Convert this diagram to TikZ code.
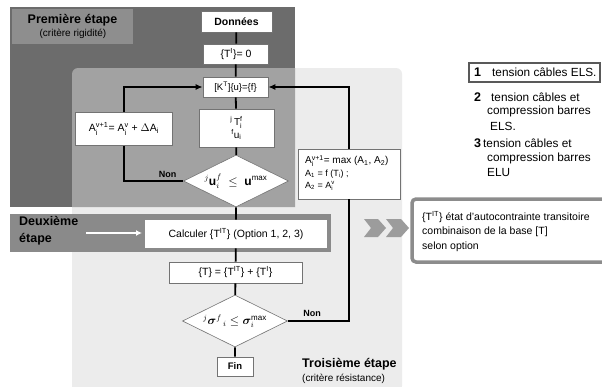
\documentclass[tikz,border=0pt]{standalone}
\usepackage{amsmath,bm}
\usepackage{fontspec}
\setmainfont{Liberation Sans}
\usetikzlibrary{shapes.geometric,arrows.meta}
\newcommand\fs[2]{\fontsize{#1}{#2}\selectfont}
\definecolor{darkp}{HTML}{6C6C6C}
\definecolor{medp}{HTML}{A2A2A2}
\definecolor{lightp}{HTML}{ECECEC}
\definecolor{labp}{HTML}{8E8E8E}
\definecolor{bandc}{HTML}{8A8A8A}
\definecolor{chev}{HTML}{9C9C9C}
\definecolor{rborder}{HTML}{8C8C8C}
\begin{document}
\begin{tikzpicture}[x=1pt,y=1pt,
  wbox/.style={draw=black!55,line width=0.6pt,fill=white,inner sep=0pt,font=\fs{10.5}{12}},
  dia/.style={diamond,draw=black!55,line width=0.6pt,fill=white,inner sep=0pt,aspect=2,minimum width=105pt,minimum height=52pt},
  conn/.style={line width=1.8pt,black},
  arr/.style={conn,-{Latex[length=7pt,width=6pt]}},
  title/.style={font=\bfseries\fs{12.5}{14},inner sep=0pt},
  subt/.style={font=\fs{10}{12},inner sep=0pt},
  nonlab/.style={font=\bfseries\fs{9}{10},inner sep=0pt},
  leg/.style={font=\fs{11.8}{13},inner sep=0pt,anchor=west},
  legn/.style={font=\bfseries\fs{12.5}{13},inner sep=0pt,anchor=west}]
\useasboundingbox (0,0) rectangle (602,-386);
\fill[white] (0,0) rectangle (602,-386);
% panels
\fill[lightp,rounded corners=6pt] (72,-68) rectangle (402,-392);
\fill[darkp] (10,-7) rectangle (295,-207);
\fill[medp] (72,-207) [rounded corners=6pt] -- (72,-68) [sharp corners] -- (295,-68) -- (295,-207) -- cycle;
\fill[labp] (12,-9) rectangle (133,-44);
\node[title] (t1) at (72.5,-20) {Première étape};
\node[subt] (t1s) at (73,-34) {(critère rigidité)};
\fill[bandc] (10,-214) rectangle (331,-252);
\node[title,anchor=west,align=left,font=\bfseries\fs{12.5}{17}] (t2) at (19,-231) {Deuxième\\étape};
\node[title,anchor=west] (t3) at (302,-364) {Troisième étape};
\node[subt,anchor=west] (t3s) at (302,-379) {(critère résistance)};
% white arrow
\coordinate (wa1) at (86,-233);
\coordinate (wa2) at (142,-233);
\draw[white,line width=2.2pt,-{Latex[length=6pt,width=6pt]}] (wa1) -- (wa2);
% flow nodes
\node[wbox,minimum width=71pt,minimum height=21pt,font=\bfseries\fs{10.5}{12}] (donnees) at (236.5,-21.5) {Données};
\node[wbox,minimum width=65pt,minimum height=20pt] (ti) at (236,-54) {\{T$^{\text{I}}$\}= 0};
\node[wbox,minimum width=65pt,minimum height=20pt,font=\fs{9.5}{11}] (kt) at (235.5,-87) {[K$^{\text{T}}$]\{u\}=\{f\}};
\node[wbox,minimum width=75pt,minimum height=38pt,align=center,font=\fs{10}{13}] (jt) at (236.5,-128) {$^{\text{j}}\,$T$_{\text{i}}^{\text{f}}$\\$^{\text{f}}$u$_{\text{i}}$};
\node[wbox,minimum width=97pt,minimum height=33pt] (abox) at (124,-129) {A$_{\text{i}}^{\text{v+1}}$= A$_{\text{i}}^{\text{v}}$ + $\Delta$A$_{\text{i}}$};
\node[dia] (d1) at (236,-181) {\fs{12}{14}$^{j}\mathbf{u}_{i}^{f}\ \leq\ \mathbf{u}^{\max}$};
\node[wbox,draw=none,minimum width=182pt,minimum height=28pt] (calc) at (236,-234) {Calculer \{T$^{\text{IT}}$\} (Option 1, 2, 3)};
\node[wbox,minimum width=133pt,minimum height=21pt] (tsum) at (235.5,-272.5) {\{T\} = \{T$^{\text{IT}}$\} + \{T$^{\text{I}}$\}};
\node[dia] (d2) at (235,-321) {\fs{12}{14}$^{j}\bm{\sigma}^{f}{}_{\,i}\leq\bm{\sigma}_{i}^{\max}$};
\node[wbox,minimum width=36pt,minimum height=19pt,font=\bfseries\fs{9.5}{11}] (fin) at (235,-366.5) {Fin};
\node[wbox,minimum width=102pt,minimum height=50pt,align=left,anchor=center] (amax) at (349,-174) {};
\node[inner sep=0pt,anchor=north west,align=left,font=\fs{9}{12.5}] (amaxt) at (305,-155)
  {{\fs{10}{12}A$_{\text{i}}^{\text{v+1}}$= max (A$_{\text{1}}$, A$_{\text{2}}$)}\\ A$_{\text{1}}$ = f (T$_{\text{i}}$) ;\\ A$_{\text{2}}$ = A$_{\text{i}}^{\text{v}}$};
% connectors
\draw[conn] (donnees) -- (ti) -- (kt) -- (jt) -- (d1) -- (calc) -- (tsum) -- (d2) -- (fin);
\draw[arr] (abox.north) |- (kt.west);
\draw[conn] (abox.south) |- (d1.west);
\draw[conn] (d2.east) -| (amax.south);
\draw[arr] (amax.north) |- (kt.east);
\node[nonlab] (non1) at (167.5,-174.5) {Non};
\node[nonlab] (non2) at (312,-313.5) {Non};
% chevrons
\fill[chev] (364,-219) -- (378,-219) -- (386,-228) -- (378,-237) -- (364,-237) -- (371,-228) -- cycle;
\fill[chev] (386,-219) -- (401,-219) -- (409,-228) -- (401,-237) -- (386,-237) -- (393,-228) -- cycle;
% right box
\draw[rborder,line width=3.5pt,fill=white,rounded corners=4pt] (412,-199) rectangle (612,-262);
\node[inner sep=0pt,anchor=north west,align=left,font=\fs{10.5}{14.5}] (rtext) at (422,-211)
  {\{T$^{\text{IT}}$\} état d'autocontrainte transitoire\\combinaison de la base [T]\\selon option};
% legend
\draw[black!65,line width=2pt] (469,-63) rectangle (600,-82);
\node[legn] (l1) at (474,-72.5) {1};
\node[leg] (l1t) at (492,-72.5) {tension câbles ELS.};
\node[legn] (l2) at (474,-97) {2};
\node[leg] (l2a) at (491,-97) {tension câbles et};
\node[leg] (l2b) at (487,-111) {compression barres};
\node[leg] (l2c) at (490,-126) {ELS.};
\node[legn] (l3) at (474,-143) {3};
\node[leg] (l3a) at (483,-143) {tension câbles et};
\node[leg] (l3b) at (487,-158) {compression barres};
\node[leg] (l3c) at (487,-172) {ELU};
\end{tikzpicture}
\end{document}
